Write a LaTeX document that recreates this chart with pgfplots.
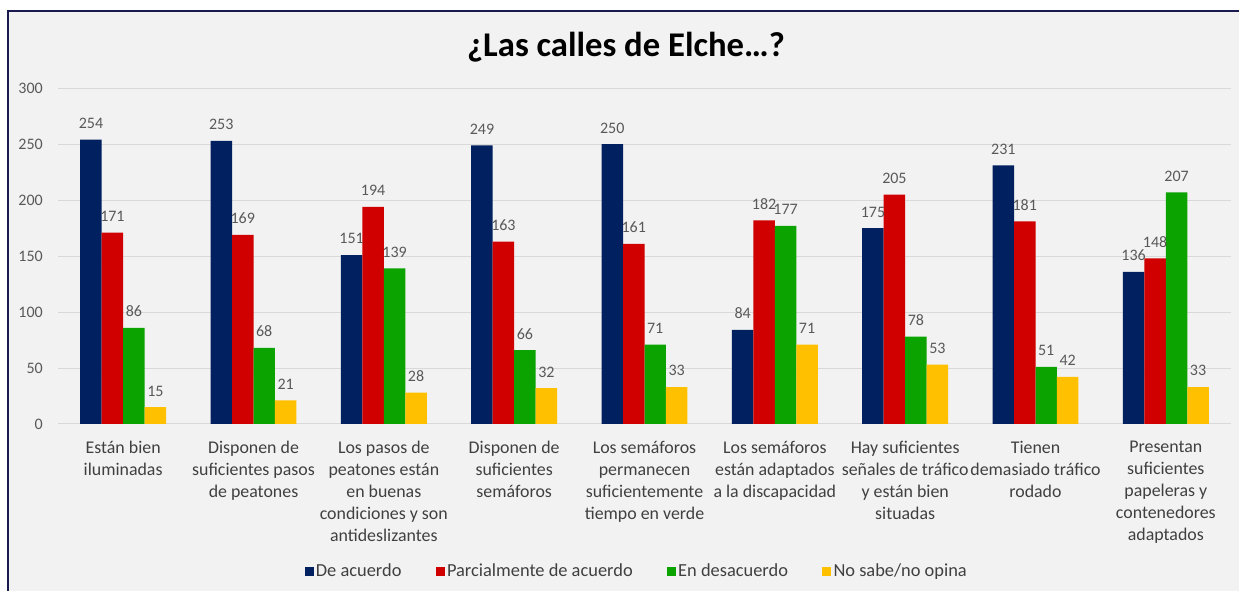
\documentclass[border=0pt]{standalone}
\usepackage{fontspec}
\setmainfont{Carlito}
\usepackage{pgfplots}
\pgfplotsset{compat=1.18}
\definecolor{cA}{HTML}{002060}
\definecolor{cB}{HTML}{D00000}
\definecolor{cC}{HTML}{0BA300}
\definecolor{cD}{HTML}{FFC000}
\definecolor{bgc}{HTML}{F2F2F2}
\definecolor{brd}{HTML}{1A1A4F}
\definecolor{gridc}{HTML}{D9D9D9}
\definecolor{tickc}{HTML}{595959}
\definecolor{catc}{HTML}{404040}
\pgfplotsset{sq/.style={legend image code/.code={\path[##1,draw=none] (0pt,-3.4pt) rectangle (6.75pt,3.4pt);}}}
\begin{document}
\begin{tikzpicture}
\useasboundingbox (-43.5pt,-125.25pt) rectangle (885.75pt,318pt);
\fill[white] (-43.5pt,-125.25pt) rectangle (885.75pt,318pt);
\begin{scope}
\clip (-43.5pt,-125.25pt) rectangle (885.75pt,318pt);
\fill[bgc] (-37.5pt,-140pt) rectangle (900pt,309.9pt);
\draw[brd, line width=1.5pt] (-37.5pt,-140pt) -- (-37.5pt,309.9pt) -- (900pt,309.9pt);
\end{scope}
\node[font=\bfseries\fontsize{26}{30}\selectfont, text=black] at (426pt,282.75pt) {¿Las calles de Elche…?};
\begin{axis}[
  at={(0pt,0pt)}, anchor=south west,
  scale only axis, width=879.75pt, height=251.8pt,
  xmin=-0.5, xmax=8.5, ymin=0, ymax=300,
  ytick={0,50,...,300},
  xtick={0,...,8},
  xticklabels={
    {Están bien\\iluminadas},
    {Disponen de\\suficientes pasos\\de peatones},
    {Los pasos de\\peatones están\\en buenas\\condiciones y son\\antideslizantes},
    {Disponen de\\suficientes\\semáforos},
    {Los semáforos\\permanecen\\suficientemente\\tiempo en verde},
    {Los semáforos\\están adaptados\\a la discapacidad},
    {Hay suficientes\\señales de tráfico\\y están bien\\situadas},
    {Tienen\\demasiado tráfico\\rodado},
    {Presentan\\suficientes\\papeleras y\\contenedores\\adaptados}},
  ybar=0pt, bar width=16.1pt,
  axis line style={draw=none},
  major tick length=0pt,
  ymajorgrids, grid style={color=gridc, line width=0.75pt},
  /pgf/number format/assume math mode=true,
  yticklabel style={font=\fontsize{12}{14}\selectfont, text=tickc, anchor=east, inner sep=0pt, xshift=-11.25pt},
  xticklabel style={font=\fontsize{13.4}{16.5}\selectfont, text=catc, align=center, anchor=north, inner sep=0pt, yshift=-12.5pt},
  nodes near coords,
  nodes near coords style={font=\fontsize{12}{14}\selectfont, text=tickc, anchor=base, inner sep=0pt, yshift=8.3pt},
  legend columns=4,
  legend style={at={(0.4935,-0.438)}, anchor=center, draw=none, fill=none,
    font=\fontsize{13.8}{16}\selectfont, text=catc,
    nodes={inner sep=1.7pt},
    /tikz/every even column/.append style={column sep=24pt}},
  legend cell align=left,
]
\addplot[sq, fill=cA, draw=none] coordinates {(0,254) (1,253) (2,151) (3,249) (4,250) (5,84) (6,175) (7,231) (8,136)};
\addplot[sq, fill=cB, draw=none] coordinates {(0,171) (1,169) (2,194) (3,163) (4,161) (5,182) (6,205) (7,181) (8,148)};
\addplot[sq, fill=cC, draw=none] coordinates {(0,86) (1,68) (2,139) (3,66) (4,71) (5,177) (6,78) (7,51) (8,207)};
\addplot[sq, fill=cD, draw=none] coordinates {(0,15) (1,21) (2,28) (3,32) (4,33) (5,71) (6,53) (7,42) (8,33)};
\legend{De acuerdo, Parcialmente de acuerdo, En desacuerdo, No sabe/no opina}
\end{axis}
\end{tikzpicture}
\end{document}
